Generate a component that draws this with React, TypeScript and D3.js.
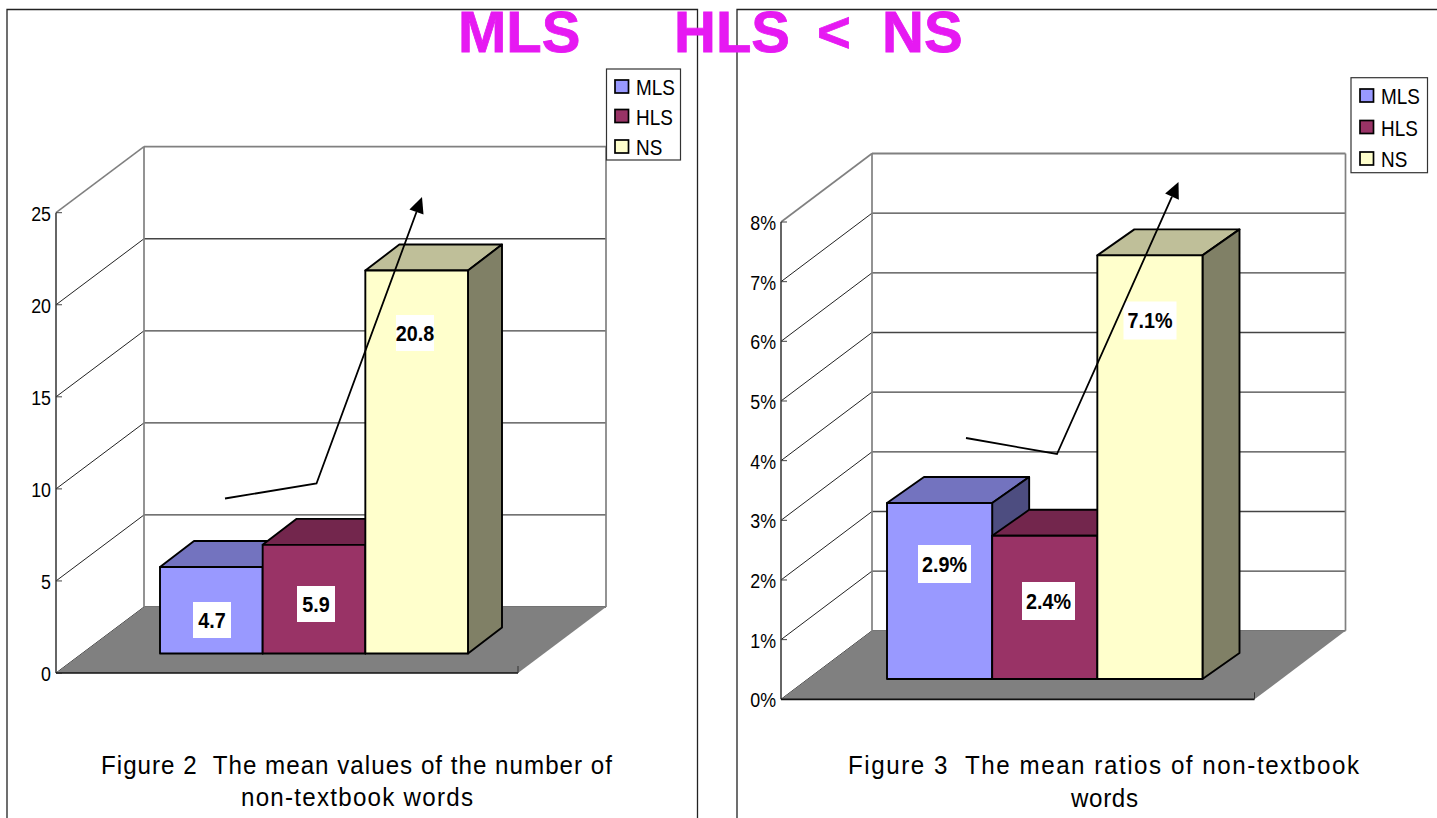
import React from 'react';
import * as d3 from 'd3';

const groups = ['MLS', 'HLS', 'NS'];
const groupColors = ['#9999ff', '#993366', '#ffffcc'];

const wordCounts = [4.7, 5.9, 20.8];
const wordLabels = ['4.7', '5.9', '20.8'];
const wordTicks = [0, 5, 10, 15, 20, 25];

// MLS bar is drawn a little taller than its 2.9% label in the original
const wordRatios = [2.95, 2.4, 7.1];
const ratioLabels = ['2.9%', '2.4%', '7.1%'];
const ratioTicks = [0, 1, 2, 3, 4, 5, 6, 7, 8];

const FONT = '"Liberation Sans", Arial, sans-serif';
const MAGENTA = '#e619f2';

const Squeezed = ({ x, y, size, sx = 0.85, anchor = 'start', bold = false, children }: any) => (
  <text
    transform={`translate(${x},${y}) scale(${sx},1)`}
    fontFamily={FONT}
    fontSize={size}
    fontWeight={bold ? 'bold' : 'normal'}
    textAnchor={anchor}
    fill="#000"
  >
    {children}
  </text>
);

const Chart3D = ({ values, labels, ticks, tickFormat, layout }: any) => {
  const { x0, y0, yTop, maxValue, floorW, dx, dy, baseY, barLeft, barRight, barDx, barDy, labelPos, boxW, boxH } = layout;

  const y = d3.scaleLinear().domain([0, maxValue]).range([y0, yTop]);
  const band = d3.scaleBand<string>().domain(groups).range([barLeft, barRight]).padding(0);
  const h = (v: number) => y0 - y(v);
  const line = d3.line();

  const floor = [[x0, y0], [x0 + dx, y0 - dy], [x0 + dx + floorW, y0 - dy], [x0 + floorW, y0]] as [number, number][];

  return (
    <g>
      {/* walls */}
      {ticks.map((t: number, i: number) => {
        const top = i === ticks.length - 1;
        return (
          <g key={t}>
            <line x1={x0} y1={y(t)} x2={x0 + dx} y2={y(t) - dy} stroke={top ? '#808080' : '#222'} strokeWidth={top ? 1.6 : 1} />
            <line x1={x0 + dx} y1={y(t) - dy} x2={x0 + dx + floorW} y2={y(t) - dy} stroke={top ? '#808080' : '#444'} strokeWidth={top ? 1.8 : 1.3} />
            <line x1={x0} y1={y(t)} x2={x0 + 6} y2={y(t)} stroke="#444" strokeWidth={1} />
            <Squeezed x={x0 - 5} y={y(t) + 8} size={21} anchor="end">
              {tickFormat(t)}
            </Squeezed>
          </g>
        );
      })}
      <line x1={x0 + dx} y1={y(maxValue) - dy} x2={x0 + dx} y2={y0 - dy} stroke="#808080" strokeWidth={1.7} />
      <line x1={x0 + dx + floorW} y1={y(maxValue) - dy} x2={x0 + dx + floorW} y2={y0 - dy} stroke="#808080" strokeWidth={1.7} />
      <path d={line(floor)! + 'Z'} fill="#808080" />
      <line x1={x0} y1={y(maxValue)} x2={x0} y2={y0} stroke="#333" strokeWidth={1.5} />
      <line x1={x0} y1={y0} x2={x0 + floorW} y2={y0} stroke="#111" strokeWidth={1.7} />
      <line x1={x0 + floorW} y1={y0} x2={x0 + floorW} y2={y0 - 7} stroke="#333" strokeWidth={1} />

      {/* bars */}
      {groups.map((g, i) => {
        const left = band(g)!;
        const right = left + band.bandwidth();
        const top = baseY - h(values[i]);
        const c = d3.rgb(groupColors[i]);
        const topFill = d3.rgb(c.r * 0.75, c.g * 0.75, c.b * 0.75).formatHex();
        const sideFill = d3.rgb(c.r * 0.5, c.g * 0.5, c.b * 0.5).formatHex();
        return (
          <g key={g} stroke="#000" strokeWidth={1.9} strokeLinejoin="round">
            <path d={`M${left},${top}L${left + barDx},${top - barDy}L${right + barDx},${top - barDy}L${right},${top}Z`} fill={topFill} />
            <path d={`M${right},${top}L${right + barDx},${top - barDy}L${right + barDx},${baseY - barDy}L${right},${baseY}Z`} fill={sideFill} />
            <rect x={left} y={top} width={right - left} height={baseY - top} fill={groupColors[i]} />
          </g>
        );
      })}

      {/* value labels */}
      {labels.map((l: string, i: number) => (
        <g key={l}>
          <rect x={labelPos[i][0] - boxW / 2} y={labelPos[i][1] - boxH / 2} width={boxW} height={boxH} fill="#fff" />
          <Squeezed x={labelPos[i][0]} y={labelPos[i][1] + 7.5} size={21.5} sx={0.92} anchor="middle" bold>
            {l}
          </Squeezed>
        </g>
      ))}
    </g>
  );
};

const Arrow = ({ points }: any) => {
  const [, b, tip] = points;
  const a = Math.atan2(tip[1] - b[1], tip[0] - b[0]);
  const len = 16;
  const half = 7.5;
  const bx = tip[0] - len * Math.cos(a);
  const by = tip[1] - len * Math.sin(a);
  const head = [
    [tip[0], tip[1]],
    [bx + half * Math.sin(a), by - half * Math.cos(a)],
    [bx - half * Math.sin(a), by + half * Math.cos(a)],
  ] as [number, number][];
  return (
    <g>
      <path d={d3.line()([points[0], b, [bx, by]])!} fill="none" stroke="#000" strokeWidth={1.8} />
      <path d={d3.line()(head)! + 'Z'} fill="#000" />
    </g>
  );
};

const Legend = ({ x, y, w, h, swatchX, swatchY, textX }: any) => (
  <g>
    <rect x={x} y={y} width={w} height={h} fill="#fff" stroke="#333" strokeWidth={1.2} />
    {groups.map((g, i) => (
      <g key={g}>
        <rect x={swatchX} y={swatchY[i]} width={13.5} height={13} fill={groupColors[i]} stroke="#000" strokeWidth={1.7} />
        <Squeezed x={textX} y={swatchY[i] + 15} size={21.5} sx={0.88}>
          {g}
        </Squeezed>
      </g>
    ))}
  </g>
);

const CAPTION_SX = 0.93;

const Caption = ({ x, y, len, children }: any) => (
  <text
    transform={`translate(${x},${y}) scale(${CAPTION_SX},1)`}
    fontFamily={FONT}
    fontSize={26}
    textLength={len / CAPTION_SX}
    lengthAdjust="spacing"
    fill="#000"
    style={{ whiteSpace: 'pre' }}
  >
    {children}
  </text>
);

const App = () => (
  <svg
    width={1437}
    height={818}
    style={{ position: 'fixed', left: 0, top: 0, display: 'block', background: '#fff' }}
  >
    {/* page frames */}
    <path d="M7,818V9.5H697.5V818" fill="none" stroke="#222" strokeWidth={1.3} />
    <path d="M737,818V9.5H1437" fill="none" stroke="#222" strokeWidth={1.3} />

    <Chart3D
      values={wordCounts}
      labels={wordLabels}
      ticks={wordTicks}
      tickFormat={(t: number) => String(t)}
      layout={{
        x0: 56, y0: 673, yTop: 212.7, maxValue: 25, floorW: 462, dx: 88, dy: 66,
        baseY: 653.5, barLeft: 160, barRight: 468, barDx: 34, barDy: 26,
        labelPos: [[212, 620], [316, 604], [415, 333]], boxW: 38, boxH: 36,
      }}
    />
    <Arrow points={[[225, 498.5], [316.5, 483.5], [422, 197]]} />
    <Legend x={606.5} y={69} w={74} h={91} swatchX={615} swatchY={[80, 109.5, 140]} textX={636} />
    <Caption x={101} y={774} len={511}>Figure 2  The mean values of the number of</Caption>
    <Caption x={241} y={806} len={232}>non-textbook words</Caption>

    <Chart3D
      values={wordRatios}
      labels={ratioLabels}
      ticks={ratioTicks}
      tickFormat={(t: number) => `${t}%`}
      layout={{
        x0: 781, y0: 699.3, yTop: 222, maxValue: 8, floorW: 473.5, dx: 91, dy: 68.5,
        baseY: 679, barLeft: 887, barRight: 1202.5, barDx: 37, barDy: 26,
        labelPos: [[944.5, 564], [1048.5, 601], [1150, 320.5]], boxW: 53, boxH: 38,
      }}
    />
    <Arrow points={[[966, 438], [1057, 454], [1178.5, 182]]} />
    <Legend x={1351} y={77.7} w={76.5} h={95} swatchX={1360} swatchY={[89, 120.5, 152]} textX={1381} />
    <Caption x={848} y={774} len={511}>Figure 3  The mean ratios of non-textbook</Caption>
    <Caption x={1071} y={807} len={67}>words</Caption>

    {/* headline sits over both frames */}
    {[['MLS', 458], ['HLS', 674], ['<', 817], ['NS', 882]].map(([t, x]) => (
      <text key={t as string} x={x as number} y={52} fontFamily={FONT} fontSize={58} fontWeight="bold" fill={MAGENTA} stroke={MAGENTA} strokeWidth={0.8}>
        {t}
      </text>
    ))}
  </svg>
);

export default App;
